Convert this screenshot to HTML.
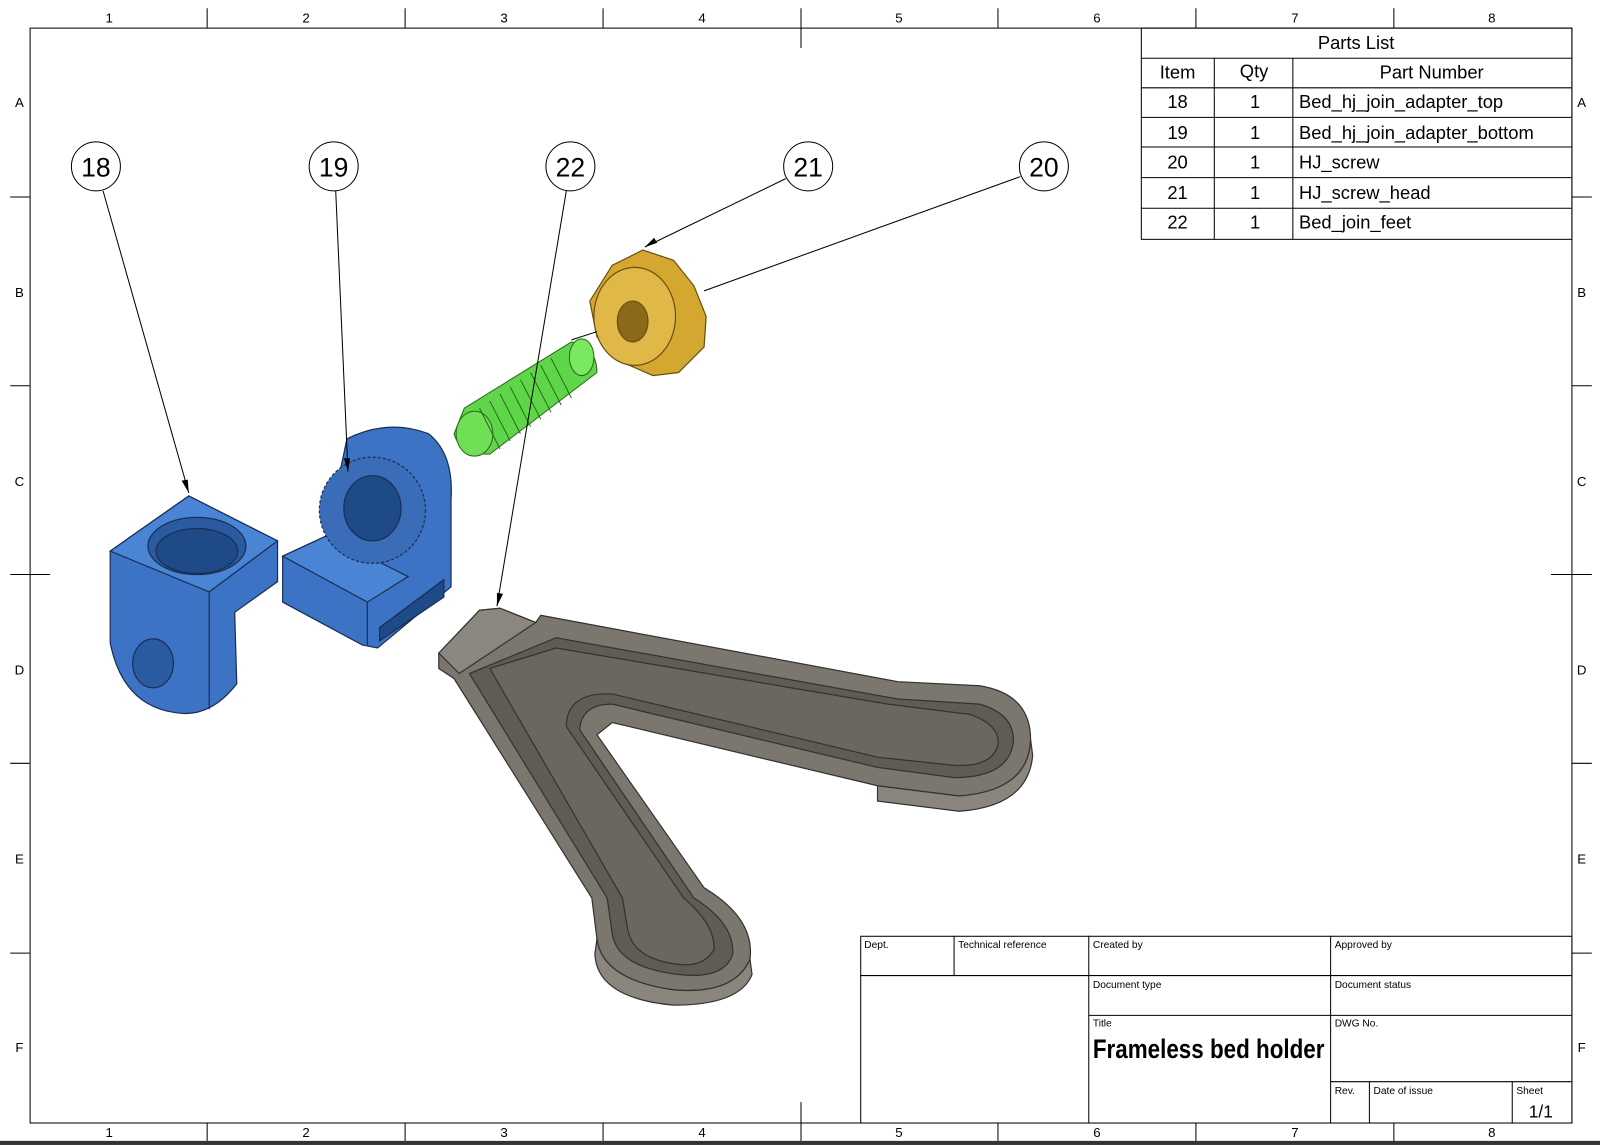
<!DOCTYPE html>
<html><head><meta charset="utf-8"><style>
html,body{margin:0;padding:0;background:#fff}
svg{display:block}
text{font-family:"Liberation Sans",Arial,sans-serif;fill:#000}
</style></head><body>
<svg width="1600" height="1145" viewBox="0 0 1568 1122" xmlns="http://www.w3.org/2000/svg">
<rect x="0" y="0" width="1568" height="1122" fill="#fff"/>
<rect x="0" y="1118" width="1568" height="4" fill="#333"/>
<g stroke="#000" stroke-width="1" fill="none">
<rect x="29.5" y="27.5" width="1511" height="1073"/>
<path d="M203 8V27M397 8V27M591 8V27M785 8V47M978 8V27M1172 8V27M1366 8V27
M203 1100V1118M397 1100V1118M591 1100V1118M785 1080V1118M978 1100V1118M1172 1100V1118M1366 1100V1118
M10 193H29M10 378H29M10 563H49M10 748H29M10 934H29
M1540 193H1560M1540 378H1560M1520 563H1560M1540 748H1560M1540 934H1560"/>
</g>
<g font-size="13" text-anchor="middle">
<text x="107" y="22">1</text><text x="300" y="22">2</text><text x="494" y="22">3</text><text x="688" y="22">4</text><text x="881" y="22">5</text><text x="1075" y="22">6</text><text x="1269" y="22">7</text><text x="1462" y="22">8</text>
<text x="107" y="1114">1</text><text x="300" y="1114">2</text><text x="494" y="1114">3</text><text x="688" y="1114">4</text><text x="881" y="1114">5</text><text x="1075" y="1114">6</text><text x="1269" y="1114">7</text><text x="1462" y="1114">8</text>
<text x="19" y="105">A</text><text x="19" y="291">B</text><text x="19" y="476">C</text><text x="19" y="661">D</text><text x="19" y="846">E</text><text x="19" y="1031">F</text>
<text x="1550" y="105">A</text><text x="1550" y="291">B</text><text x="1550" y="476">C</text><text x="1550" y="661">D</text><text x="1550" y="846">E</text><text x="1550" y="1031">F</text>
</g>
<g stroke="#000" stroke-width="1" fill="none">
<rect x="1118.5" y="27.5" width="422" height="207"/>
<path d="M1118 57H1540M1118 86H1540M1118 115H1540M1118 144H1540M1118 174H1540M1118 204H1540M1190 57V234M1267 57V234"/>
</g>
<g font-size="18">
<text x="1329" y="48" text-anchor="middle">Parts List</text>
<text x="1154" y="77" text-anchor="middle">Item</text><text x="1229" y="76" text-anchor="middle">Qty</text><text x="1403" y="77" text-anchor="middle">Part Number</text>
<g text-anchor="middle"><text x="1154" y="106">18</text><text x="1154" y="136">19</text><text x="1154" y="165">20</text><text x="1154" y="195">21</text><text x="1154" y="224">22</text>
<text x="1230" y="106">1</text><text x="1230" y="136">1</text><text x="1230" y="165">1</text><text x="1230" y="195">1</text><text x="1230" y="224">1</text></g>
<text x="1273" y="106">Bed_hj_join_adapter_top</text><text x="1273" y="136">Bed_hj_join_adapter_bottom</text><text x="1273" y="165">HJ_screw</text><text x="1273" y="195">HJ_screw_head</text><text x="1273" y="224">Bed_join_feet</text>
</g>
<g stroke="#000" stroke-width="1" fill="none">
<rect x="843.5" y="917.5" width="697" height="183"/>
<path d="M843 956H1540M1067 995H1540M1304 1060H1540M935 917V956M1067 917V1100M1304 917V1100M1342 1060V1100M1482 1060V1100"/>
</g>
<g font-size="10">
<text x="847" y="929">Dept.</text><text x="939" y="929">Technical reference</text><text x="1071" y="929">Created by</text><text x="1308" y="929">Approved by</text>
<text x="1071" y="968">Document type</text><text x="1308" y="968">Document status</text>
<text x="1071" y="1006">Title</text><text x="1308" y="1006">DWG No.</text>
<text x="1308" y="1072">Rev.</text><text x="1346" y="1072">Date of issue</text><text x="1486" y="1072">Sheet</text>
</g>
<text x="1071" y="1037" font-size="26" font-weight="bold" textLength="227" lengthAdjust="spacingAndGlyphs">Frameless bed holder</text>
<text x="1510" y="1095" font-size="17" text-anchor="middle">1/1</text>

<g stroke="#333" stroke-width="1.2">
<path d="M430 640 L470 598 L490 596 L525 610 L530 603 L880 668 L960 672 Q1010 680 1010 725 Q1008 775 940 780 L860 770 L600 708 L585 720 L690 870 Q740 900 735 940 Q720 975 660 970 Q590 960 585 920 L580 880 L445 665 L430 655 Z" fill="#7b776f"/>
<path d="M460 660 L545 625 L880 685 L960 690 Q995 700 993 728 Q988 762 935 762 L860 752 L600 690 Q570 690 568 715 L680 880 Q720 905 718 935 Q710 960 665 955 Q605 948 600 915 L595 880 Z" fill="#5f5b55"/>
<path d="M480 655 L545 635 L870 690 L950 700 Q980 710 978 730 Q972 752 935 750 L860 742 L600 680 Q555 678 555 712 L670 880 Q700 905 700 930 Q690 948 665 945 Q620 940 615 910 L610 880 Z" fill="#6b6760"/>
<path d="M430 640 L470 598 L490 596 L525 610 L465 650 L450 660 Z" fill="#8c887f"/>
<path d="M585 920 Q590 960 660 970 Q720 975 735 940 L737 955 Q725 985 660 985 Q585 978 583 935 Z" fill="#8a867e"/>
<path d="M940 780 Q1008 775 1010 725 L1012 740 Q1008 790 940 795 L860 785 L860 770 Z" fill="#8a867e"/>
</g>
<g stroke="#1a2f55" stroke-width="1.2">
<path d="M108 540 L185 486 L272 530 L272 570 L230 600 L232 670 Q205 705 170 698 Q120 690 108 630 Z" fill="#3c73c4"/>
<path d="M108 540 L185 486 L272 530 L205 580 Z" fill="#4a84d4"/>
<ellipse cx="193" cy="535" rx="48" ry="28" fill="#2a5aa0"/>
<ellipse cx="193" cy="540" rx="40" ry="22" fill="#1f4a88"/>
<path d="M205 580 L205 695" fill="none"/>
<ellipse cx="150" cy="650" rx="20" ry="24" fill="#2a5aa0"/>
</g>
<g stroke="#1a2f55" stroke-width="1.2">
<path d="M340 430 Q380 410 420 425 Q445 445 442 490 L442 575 L370 635 L355 632 L277 590 L277 545 L320 525 Z" fill="#3c73c4"/>
<path d="M277 545 L320 525 L400 565 L360 590 Z" fill="#4a84d4"/>
<path d="M360 590 L360 632" fill="none"/>
<path d="M372 615 L435 568 L435 585 L372 628 Z" fill="#1f4a88"/>
<circle cx="365" cy="500" r="52" fill="#3a6cb8" stroke-dasharray="3 2"/>
<ellipse cx="365" cy="498" rx="28" ry="32" fill="#1f4a88"/>
</g>
<g stroke="#2c6a1a" stroke-width="1">
<path d="M455 400 L560 335 Q585 340 585 365 L480 445 Q450 445 445 425 Z" fill="#5fd64a"/>
<ellipse cx="465" cy="425" rx="18" ry="22" fill="#6fe055"/>
<ellipse cx="570" cy="350" rx="12" ry="18" fill="#7ae860"/>
<path d="M470 400 L490 440 M480 393 L500 432 M490 386 L510 425 M500 379 L520 418 M510 372 L530 411 M520 365 L540 404 M530 358 L550 397 M540 351 L560 390" fill="none"/>
</g>
<g stroke="#6a5010" stroke-width="1.2">
<path d="M600 260 L630 245 L660 255 L680 280 L692 310 L690 340 L665 365 L640 368 L610 355 L585 330 L578 295 Z" fill="#d4a830"/>
<ellipse cx="622" cy="310" rx="40" ry="48" fill="#e0b848"/>
<ellipse cx="620" cy="315" rx="15" ry="20" fill="#8a6a1a"/>
</g>
<g stroke="#000" stroke-width="1" fill="none">
<path d="M101 187L185 483M329 187L341 462M555 187L487 594M770 175L632 242M1000 173L690 285M585 325L560 333"/>
</g>
<g fill="#000">
<path d="M185 483l-7-12 6-1z"/><path d="M341 462l-4-13 6 0z"/><path d="M487 594l0-13 6 1z"/><path d="M632 242l9-9 3 5z"/>
</g>
<g stroke="#000" stroke-width="1" fill="#fff">
<circle cx="94" cy="163" r="24"/><circle cx="327" cy="163" r="24"/><circle cx="559" cy="163" r="24"/><circle cx="792" cy="163" r="24"/><circle cx="1023" cy="163" r="24"/>
</g>
<g font-size="26" text-anchor="middle">
<text x="94" y="173">18</text><text x="327" y="173">19</text><text x="559" y="173">22</text><text x="792" y="173">21</text><text x="1023" y="173">20</text>
</g>
</svg>
</body></html>
